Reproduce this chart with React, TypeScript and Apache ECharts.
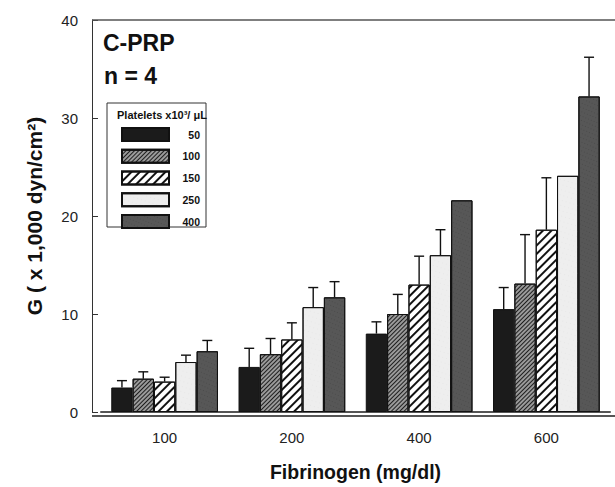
import React, { useEffect, useRef } from "react";
import * as echarts from "echarts";

const categories = ["100", "200", "400", "600"];
const seriesNames = ["50", "100", "150", "250", "400"];

const g50 = [2.5, 4.6, 8.0, 10.5];
const g100 = [3.4, 5.9, 10.0, 13.1];
const g150 = [3.1, 7.4, 13.0, 18.6];
const g250 = [5.1, 10.7, 16.0, 24.1];
const g400 = [6.2, 11.7, 21.6, 32.2];

const err50 = [0.7, 1.9, 1.2, 2.2];
const err100 = [0.7, 1.6, 2.0, 5.0];
const err150 = [0.45, 1.7, 2.9, 5.3];
const err250 = [0.7, 2.0, 2.6, null];
const err400 = [1.1, 1.6, null, 4.0];

const yTicks = [0, 10, 20, 30, 40];

const values = [g50, g100, g150, g250, g400];
const errors = [err50, err100, err150, err250, err400];

const FONT = "Liberation Sans";
const BAR_FRAC = 0.1677;

const styles: any[] = [
  { color: "#1b1b1b" },
  {
    color: "#9a9a9a",
    decal: {
      symbol: "rect",
      symbolSize: 1,
      color: "#1e1e1e",
      dashArrayX: [1, 0],
      dashArrayY: [1, 2],
      rotation: -Math.PI / 4,
    },
  },
  {
    color: "#ffffff",
    decal: {
      symbol: "rect",
      symbolSize: 1,
      color: "#111111",
      dashArrayX: [1, 0],
      dashArrayY: [2, 4],
      rotation: -Math.PI / 4,
    },
  },
  {
    color: "#eeeeee",
    decal: {
      symbol: "rect",
      symbolSize: 0.6,
      color: "#d6d6d6",
      dashArrayX: [1, 3],
      dashArrayY: [1, 4],
      rotation: 0.3,
    },
  },
  {
    color: "#575757",
    decal: {
      symbol: "rect",
      symbolSize: 0.7,
      color: "#363636",
      dashArrayX: [1, 2],
      dashArrayY: [1, 3],
      rotation: 0.4,
    },
  },
];

export default function App() {
  const ref = useRef<HTMLDivElement>(null);

  useEffect(() => {
    if (!ref.current) return;
    const chart = echarts.init(ref.current, null, { renderer: "svg" });

    const barSeries = seriesNames.map((name, i) => ({
      name,
      type: "bar",
      data: values[i],
      barWidth: (BAR_FRAC * 100).toFixed(2) + "%",
      barGap: "0%",
      itemStyle: {
        ...styles[i],
        borderColor: "#111",
        borderWidth: 1,
      },
      z: 2,
    }));

    const errSeries = seriesNames.map((name, i) => ({
      name: "err" + name,
      type: "custom",
      z: 3,
      data: categories
        .map((c, k) => [k, values[i][k], errors[i][k]])
        .filter((d) => d[2] !== null),
      renderItem: (params: any, api: any) => {
        const ci = api.value(0);
        const v = api.value(1);
        const e = api.value(2);
        const base = api.coord([ci, v]);
        const top = api.coord([ci, v + e]);
        const band = api.size([1, 0])[0];
        const bw = band * BAR_FRAC;
        const x = base[0] + (i - 2) * bw;
        const st = { stroke: "#111", lineWidth: 1.4 };
        return {
          type: "group",
          children: [
            { type: "line", shape: { x1: x, y1: base[1], x2: x, y2: top[1] }, style: st },
            { type: "line", shape: { x1: x - 5, y1: top[1], x2: x + 5, y2: top[1] }, style: st },
          ],
        };
      },
    }));

    chart.setOption({
      animation: false,
      backgroundColor: "#ffffff",
      textStyle: { fontFamily: FONT },
      grid: { left: 101, right: 5, top: 20, bottom: 71 },
      xAxis: {
        type: "category",
        data: categories,
        axisTick: { show: false },
        axisLine: { lineStyle: { color: "#555", width: 2 } },
        axisLabel: { color: "#222", fontSize: 15, margin: 18, fontFamily: FONT },
        name: "Fibrinogen (mg/dl)",
        nameLocation: "middle",
        nameGap: 50,
        nameTextStyle: { color: "#111", fontSize: 19.5, fontWeight: "bold", fontFamily: FONT },
      },
      yAxis: {
        type: "value",
        min: yTicks[0],
        max: yTicks[yTicks.length - 1],
        interval: 10,
        offset: 9,
        splitLine: { show: false },
        axisLine: { show: true, lineStyle: { color: "#333", width: 1 } },
        axisTick: { show: true, inside: true, length: 6, lineStyle: { color: "#333" } },
        axisLabel: { color: "#222", fontSize: 15, margin: 14, fontFamily: FONT },
        name: "G ( x 1,000 dyn/cm²)",
        nameLocation: "middle",
        nameGap: 47,
        nameTextStyle: { color: "#111", fontSize: 21, fontWeight: "bold", fontFamily: FONT },
      },
      legend: {
        data: seriesNames,
        orient: "vertical",
        left: 121,
        top: 127,
        padding: 0,
        itemWidth: 47,
        itemHeight: 13,
        itemGap: 6.75,
        icon: "rect",
        selectedMode: false,
        formatter: "{a|{name}}",
        textStyle: {
          rich: {
            a: { width: 26, align: "right", fontSize: 10.5, fontWeight: "bold", color: "#111", fontFamily: FONT },
          },
        },
      },
      graphic: [
        {
          type: "rect",
          z: 1,
          shape: { x: 107, y: 103, width: 99, height: 124 },
          style: { fill: "#fff", stroke: "#333", lineWidth: 1 },
        },
        {
          type: "text",
          z: 5,
          style: {
            x: 117,
            y: 115,
            text: "Platelets x10³/ μL",
            font: `bold 11px "${FONT}"`,
            fill: "#111",
            verticalAlign: "middle",
          },
        },
        {
          type: "text",
          z: 5,
          style: {
            x: 103,
            y: 43,
            text: "C-PRP",
            font: `bold 23px "${FONT}"`,
            fill: "#111",
            verticalAlign: "middle",
          },
        },
        {
          type: "text",
          z: 5,
          style: {
            x: 104,
            y: 76,
            text: "n = 4",
            font: `bold 23px "${FONT}"`,
            fill: "#111",
            verticalAlign: "middle",
          },
        },
        {
          type: "line",
          z: 5,
          shape: { x1: 92, y1: 20, x2: 615, y2: 20 },
          style: { stroke: "#555", lineWidth: 1.5 },
        },
        {
          type: "line",
          z: 5,
          shape: { x1: 92, y1: 416, x2: 615, y2: 416 },
          style: { stroke: "#555", lineWidth: 2 },
        },
      ],
      series: [...barSeries, ...errSeries],
    });

    return () => chart.dispose();
  }, []);

  return (
    <div
      ref={ref}
      style={{ position: "fixed", left: 0, top: 0, width: 615, height: 487, background: "#fff" }}
    />
  );
}
